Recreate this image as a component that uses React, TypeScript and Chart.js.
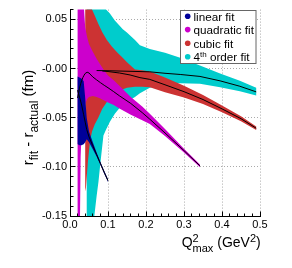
import React, { useEffect, useRef } from "react";
import { Chart, registerables } from "chart.js";

Chart.register(...registerables);

const FONT = "'Liberation Sans', Arial, Helvetica, sans-serif";

// ---------- axis / legend text ----------
const xTickValues = [0, 0.1, 0.2, 0.3, 0.4, 0.5];
const xTickLabels = ["0.0", "0.1", "0.2", "0.3", "0.4", "0.5"];
const yTickValues = [-0.15, -0.1, -0.05, 0, 0.05];
const yTickLabels = ["-0.15", "-0.10", "-0.05", "-0.00", "0.05"];
const seriesNames = ["linear fit", "quadratic fit", "cubic fit", "4th order fit"];
const seriesColors = ["#000099", "#cc00cc", "#cc3333", "#00cccc"];

// ---------- linear fit ----------
const linX = [0.02, 0.025, 0.03, 0.036, 0.04, 0.044, 0.05, 0.06, 0.07, 0.08, 0.09, 0.1];
const linHi = [-0.008, -0.009, -0.01, -0.013, -0.03, -0.05, -0.064, -0.075, -0.0855, -0.095, -0.104, -0.1125];
const linLo = [-0.077, -0.078, -0.078, -0.077, -0.075, -0.072, -0.075, -0.082, -0.0895, -0.098, -0.107, -0.1155];
const linMid = [-0.022, -0.029, -0.036, -0.047, -0.0545, -0.062, -0.0695, -0.0785, -0.0875, -0.0965, -0.1055, -0.114];

// ---------- quadratic fit ----------
const quadX = [0.02, 0.022, 0.025, 0.028, 0.031, 0.034, 0.037, 0.04, 0.045, 0.05, 0.06, 0.07, 0.08, 0.09, 0.1, 0.115, 0.13, 0.16, 0.19, 0.21, 0.25, 0.3, 0.342];
const quadHi = [0.8, 0.5, 0.3, 0.18, 0.12, 0.085, 0.06, 0.042, 0.032, 0.025, 0.017, 0.01, 0.004, -0.002, -0.007, -0.012, -0.0175, -0.029, -0.0385, -0.046, -0.0615, -0.0815, -0.0975];
const quadLo = [-0.8, -0.5, -0.2, -0.09, -0.06, -0.047, -0.04, -0.036, -0.031, -0.029, -0.028, -0.029, -0.0305, -0.0325, -0.0345, -0.037, -0.0405, -0.047, -0.0525, -0.0565, -0.0685, -0.0855, -0.1005];
const quadMid = [-0.03, -0.026, -0.02, -0.0155, -0.012, -0.009, -0.0068, -0.005, -0.0037, -0.0045, -0.0085, -0.0115, -0.0143, -0.017, -0.0195, -0.0235, -0.0277, -0.0355, -0.0448, -0.0515, -0.0655, -0.0835, -0.099];

// ---------- cubic fit ----------
const cubX = [0.04, 0.042, 0.047, 0.053, 0.058, 0.065, 0.075, 0.085, 0.097, 0.11, 0.125, 0.136, 0.15, 0.171, 0.19, 0.21, 0.25, 0.3, 0.35, 0.4, 0.45, 0.49];
const cubHi = [0.6, 0.35, 0.16, 0.09, 0.06, 0.054, 0.045, 0.037, 0.029, 0.0225, 0.016, 0.012, 0.0065, -0.001, -0.0018, -0.003, -0.009, -0.0175, -0.027, -0.0375, -0.0485, -0.059];
const cubLo = [-0.125, -0.121, -0.095, -0.073, -0.064, -0.057, -0.0495, -0.041, -0.034, -0.029, -0.024, -0.0215, -0.0195, -0.0185, -0.0185, -0.019, -0.024, -0.0295, -0.036, -0.0445, -0.0535, -0.0625];
const cubLineX = [0.085, 0.1, 0.13, 0.158, 0.184, 0.21, 0.25, 0.3, 0.35, 0.4, 0.45, 0.49];
const cubLineY = [-0.0025, -0.003, -0.0045, -0.0065, -0.0092, -0.011, -0.0165, -0.0235, -0.0315, -0.041, -0.051, -0.0607];

// ---------- 4th order fit ----------
const qrtX = [0.044, 0.05, 0.055, 0.06, 0.064, 0.07, 0.075, 0.08, 0.088, 0.095, 0.105, 0.118, 0.139, 0.149, 0.171, 0.184, 0.21, 0.25, 0.29, 0.342, 0.395, 0.447, 0.49];
const qrtHi = [0.6, 0.35, 0.25, 0.18, 0.14, 0.11, 0.095, 0.085, 0.072, 0.06, 0.056, 0.049, 0.04, 0.037, 0.029, 0.0237, 0.02, 0.016, 0.011, 0.003, -0.005, -0.0125, -0.0195];
const qrtLo = [-0.6, -0.4, -0.28, -0.2, -0.15, -0.13, -0.115, -0.096, -0.068, -0.062, -0.054, -0.046, -0.036, -0.034, -0.029, -0.025, -0.0195, -0.016, -0.015, -0.0155, -0.019, -0.023, -0.0275];
const qrtLineX = [0.07, 0.1, 0.15, 0.21, 0.25, 0.29, 0.342, 0.395, 0.447, 0.49];
const qrtLineY = [-0.002, -0.0022, -0.0027, -0.0033, -0.0048, -0.006, -0.008, -0.0125, -0.018, -0.0237];

type P = { x: number; y: number };
const band = (xs: number[], hi: number[], lo: number[]): P[] => [
  ...xs.map((x, i) => ({ x, y: hi[i] })),
  ...xs.map((x, i) => ({ x, y: lo[i] })).reverse(),
];
const curve = (xs: number[], ys: number[]): P[] => xs.map((x, i) => ({ x, y: ys[i] }));

function bandDs(label: string, data: P[], color: string, order: number) {
  return {
    label,
    data,
    fill: "shape",
    backgroundColor: color,
    borderColor: "rgba(0,0,0,0)",
    borderWidth: 0,
    borderDash: [4, 0],
    pointRadius: 0,
    pointHoverRadius: 0,
    tension: 0,
    order,
  };
}
function lineDs(label: string, data: P[], order: number) {
  return {
    label,
    data,
    fill: false,
    borderColor: "#000000",
    backgroundColor: "#000000",
    borderWidth: 1,
    pointRadius: 0,
    pointHoverRadius: 0,
    tension: 0,
    order,
  };
}

type Run = { t: string; size: number; dy: number; alt?: Run };

function runWidth(ctx: CanvasRenderingContext2D, r: Run): number {
  ctx.font = `${r.size}px ${FONT}`;
  let w = ctx.measureText(r.t).width;
  if (r.alt) {
    ctx.font = `${r.alt.size}px ${FONT}`;
    w = Math.max(w, ctx.measureText(r.alt.t).width);
  }
  return w;
}
function drawRuns(ctx: CanvasRenderingContext2D, runs: Run[], x: number, y: number) {
  let cx = x;
  for (const r of runs) {
    const w = runWidth(ctx, r);
    ctx.font = `${r.size}px ${FONT}`;
    ctx.fillText(r.t, cx, y + r.dy);
    if (r.alt) {
      ctx.font = `${r.alt.size}px ${FONT}`;
      ctx.fillText(r.alt.t, cx, y + r.alt.dy);
    }
    cx += w;
  }
}
function totalWidth(ctx: CanvasRenderingContext2D, runs: Run[]) {
  return runs.reduce((s, r) => s + runWidth(ctx, r), 0);
}

const xTitle: Run[] = [
  { t: "Q", size: 14, dy: 0 },
  { t: "2", size: 11, dy: -5, alt: { t: "max", size: 11, dy: 5 } },
  { t: " (GeV", size: 14, dy: 0 },
  { t: "2", size: 11, dy: -5 },
  { t: ")", size: 14, dy: 0 },
];
const yTitle: Run[] = [
  { t: "r", size: 15, dy: 0 },
  { t: "fit", size: 12, dy: 5 },
  { t: " - ", size: 15, dy: 0 },
  { t: "r", size: 15, dy: 0 },
  { t: "actual", size: 12, dy: 5 },
  { t: " (fm)", size: 15, dy: 0 },
];

const overlay = {
  id: "overlay",
  afterDraw(chart: any) {
    const ctx: CanvasRenderingContext2D = chart.ctx;
    const xs = chart.scales.x;
    const ys = chart.scales.y;
    const { left, bottom } = chart.chartArea;
    const al = (p: number) => Math.round(p - 0.5) + 0.5;
    ctx.save();
    // inward ticks
    ctx.strokeStyle = "#000";
    ctx.lineWidth = 1;
    ctx.beginPath();
    const b = al(bottom);
    for (let i = 0; i <= 25; i++) {
      const px = al(xs.getPixelForValue(i * 0.02));
      const len = i % 5 === 0 ? 5 : 3;
      ctx.moveTo(px, b);
      ctx.lineTo(px, b - len);
    }
    const l = al(left);
    for (let i = 0; i <= 21; i++) {
      const py = al(ys.getPixelForValue(-0.15 + i * 0.01));
      const len = i % 5 === 0 ? 5 : 3;
      ctx.moveTo(l, py);
      ctx.lineTo(l + len, py);
    }
    ctx.stroke();

    // axis titles
    ctx.fillStyle = "#000";
    ctx.textBaseline = "alphabetic";
    ctx.textAlign = "left";
    const xw = totalWidth(ctx, xTitle);
    drawRuns(ctx, xTitle, 260.7 - xw, 247);

    const yw = totalWidth(ctx, yTitle);
    ctx.save();
    ctx.translate(32.5, 117.5);
    ctx.rotate(-Math.PI / 2);
    drawRuns(ctx, yTitle, -yw / 2, 0);
    ctx.restore();

    // legend
    ctx.fillStyle = "#ffffff";
    ctx.fillRect(180.5, 10.5, 75.5, 53);
    ctx.strokeStyle = "#666666";
    ctx.strokeRect(180.5, 10.5, 75.5, 53);
    const rows = [16.2, 29.6, 43.2, 56.8];
    seriesNames.forEach((name, i) => {
      const cy = rows[i];
      ctx.fillStyle = seriesColors[i];
      ctx.beginPath();
      ctx.arc(187.7, cy, 2.8, 0, Math.PI * 2);
      ctx.fill();
      ctx.fillStyle = "#000";
      const base = cy + 4.3;
      if (name.startsWith("4th")) {
        drawRuns(ctx, [
          { t: "4", size: 11.7, dy: 0 },
          { t: "th", size: 8, dy: -4.5 },
          { t: " order fit", size: 11.7, dy: 0 },
        ], 193.5, base);
      } else {
        ctx.font = `11.7px ${FONT}`;
        ctx.fillText(name, 193.5, base);
      }
    });
    ctx.restore();
  },
};

export default function App() {
  const ref = useRef<HTMLCanvasElement | null>(null);
  useEffect(() => {
    document.body.style.margin = "0";
    const canvas = ref.current;
    if (!canvas) return;
    const chart = new Chart(canvas, {
      type: "line",
      data: {
        datasets: [
          bandDs("4th order fit band", band(qrtX, qrtHi, qrtLo), seriesColors[3], 20),
          bandDs("cubic fit band", band(cubX, cubHi, cubLo), seriesColors[2], 19),
          bandDs("quadratic fit band", band(quadX, quadHi, quadLo), seriesColors[1], 18),
          bandDs("linear fit band", band(linX, linHi, linLo), seriesColors[0], 17),
          lineDs("4th order fit", curve(qrtLineX, qrtLineY), 4),
          lineDs("cubic fit", curve(cubLineX, cubLineY), 3),
          lineDs("quadratic fit", curve(quadX, quadMid), 2),
          lineDs("linear fit", curve(linX, linMid), 1),
        ] as any,
      },
      options: {
        animation: false,
        responsive: false,
        maintainAspectRatio: false,
        devicePixelRatio: 1,
        events: [],
        layout: { padding: { left: 0, right: 32, top: 7, bottom: 0 } },
        plugins: { legend: { display: false }, tooltip: { enabled: false } },
        scales: {
          x: {
            type: "linear",
            min: 0,
            max: 0.5,
            afterFit: (s: any) => { s.height = 52; },
            afterBuildTicks: (s: any) => { s.ticks = xTickValues.map((v) => ({ value: v })); },
            ticks: {
              autoSkip: false,
              maxRotation: 0,
              padding: 2,
              color: "#000",
              font: { family: FONT, size: 11 },
              callback: (_v: any, i: number) => xTickLabels[i] ?? "",
            },
            grid: { color: "#aaaaaa", lineWidth: 1, drawTicks: false },
            border: { display: true, color: "#000", width: 1, dash: [1, 2], z: 1 },
          },
          y: {
            type: "linear",
            min: -0.15,
            max: 0.06,
            afterFit: (s: any) => { s.width = 70; },
            afterBuildTicks: (s: any) => { s.ticks = yTickValues.map((v) => ({ value: v })); },
            ticks: {
              autoSkip: false,
              padding: 3,
              color: "#000",
              font: { family: FONT, size: 11 },
              callback: (_v: any, i: number) => yTickLabels[i] ?? "",
            },
            grid: { color: "#aaaaaa", lineWidth: 1, drawTicks: false },
            border: { display: true, color: "#000", width: 1, dash: [1, 2], z: 1 },
          },
        },
      } as any,
      plugins: [overlay],
    });
    return () => chart.destroy();
  }, []);
  return (
    <div style={{ width: 292, height: 268 }}>
      <canvas ref={ref} width={292} height={268} style={{ display: "block" }} />
    </div>
  );
}
